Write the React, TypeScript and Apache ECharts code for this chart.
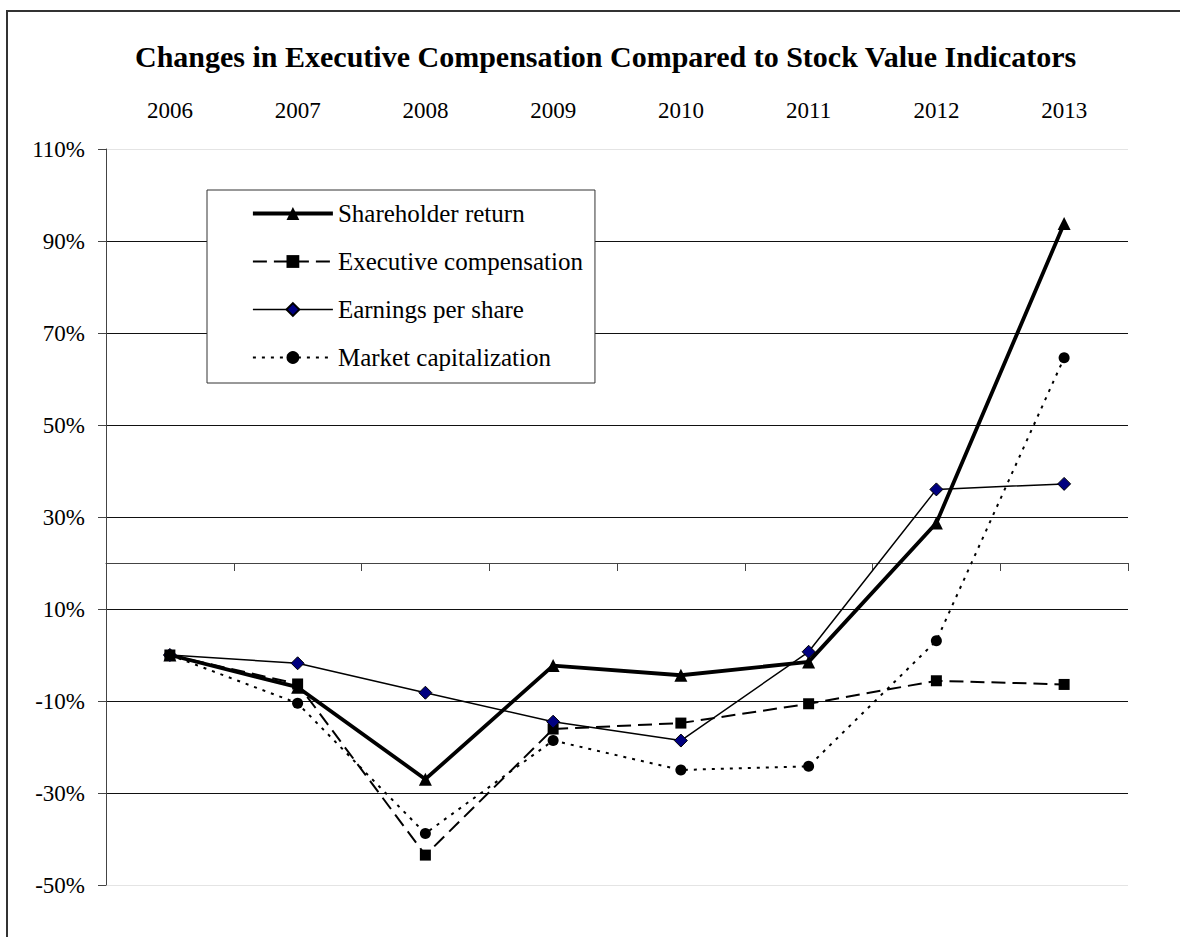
import React, { useEffect, useRef } from 'react';
import * as echarts from 'echarts';

const years = ['2006', '2007', '2008', '2009', '2010', '2011', '2012', '2013'];
const shareholderReturn = [0, -7.0, -27.0, -2.3, -4.4, -1.5, 28.7, 93.8];
const executiveCompensation = [0, -6.3, -43.5, -16.1, -14.8, -10.6, -5.6, -6.4];
const earningsPerShare = [0, -1.8, -8.2, -14.5, -18.6, 0.7, 36.0, 37.2];
const marketCapitalization = [0, -10.5, -38.8, -18.6, -25.0, -24.2, 3.1, 64.6];
const yMin = -50;
const yMax = 110;
const yStep = 20;
const axisCross = 20;

const titleText = 'Changes in Executive Compensation Compared to Stock Value Indicators';
const FONT = 'Liberation Serif';

export default function App() {
  const ref = useRef<HTMLDivElement>(null);
  useEffect(() => {
    if (!ref.current) return;
    const chart = echarts.init(ref.current, undefined, { renderer: 'svg' });
    const span = yMax - yMin;
    const option: any = {
      animation: false,
      backgroundColor: '#fff',
      textStyle: { fontFamily: FONT },
      title: {
        text: titleText,
        left: 135,
        top: 41,
        padding: 0,
        textStyle: { fontFamily: FONT, fontSize: 30, fontWeight: 'bold', color: '#000' },
      },
      graphic: [
        {
          type: 'rect',
          shape: { x: 7, y: 11, width: 1300, height: 1000 },
          style: { fill: 'none', stroke: '#333', lineWidth: 2 },
          silent: true,
          z: 100,
        },
      ],
      grid: { left: 106, right: 52, top: 149, bottom: 52, containLabel: false },
      legend: {
        orient: 'vertical',
        left: 207,
        top: 190,
        padding: [11, 12, 13, 44],
        itemWidth: 80,
        itemHeight: 16,
        itemGap: 23,
        backgroundColor: '#fff',
        borderColor: '#333',
        borderWidth: 1,
        lineStyle: { width: 'inherit', type: 'inherit' },
        textStyle: { fontFamily: FONT, fontSize: 25, lineHeight: 25, color: '#000' },
        data: ['Shareholder return', 'Executive compensation', 'Earnings per share', 'Market capitalization'],
      },
      xAxis: [
        {
          type: 'category',
          data: years,
          position: 'top',
          boundaryGap: true,
          axisLine: { show: false, onZero: false },
          axisTick: { show: false },
          axisLabel: { fontFamily: FONT, fontSize: 23, color: '#000', margin: 27 },
          splitLine: { show: false },
        },
        {
          type: 'category',
          data: years,
          position: 'bottom',
          boundaryGap: true,
          axisLine: { show: true, onZero: true, onZeroAxisIndex: 1, lineStyle: { color: '#444', width: 1 } },
          axisTick: { show: true, inside: false, length: 8, lineStyle: { color: '#444', width: 1 } },
          axisLabel: { show: false },
          splitLine: { show: false },
        },
      ],
      yAxis: [
        {
          type: 'value',
          min: yMin,
          max: yMax,
          interval: yStep,
          axisLine: { show: true, lineStyle: { color: '#444', width: 1 } },
          axisTick: { show: true, inside: false, length: 8, lineStyle: { color: '#444', width: 1 } },
          axisLabel: {
            fontFamily: FONT,
            fontSize: 23,
            color: '#000',
            margin: 21,
            formatter: (v: number) => `${v}%`,
          },
          splitLine: {
            show: true,
            lineStyle: {
              color: ['#e4e4e4', '#111', '#111', '#111', '#111', '#111', '#111', '#111', '#e4e4e4'],
              width: 1,
            },
          },
        },
        {
          type: 'value',
          show: false,
          min: yMin - axisCross,
          max: yMin - axisCross + span,
          splitLine: { show: false },
        },
      ],
      series: [
        {
          name: 'Shareholder return',
          type: 'line',
          data: shareholderReturn,
          symbol: 'triangle',
          symbolSize: 13,
          lineStyle: { color: '#000', width: 3.8, type: 'solid' },
          itemStyle: { color: '#000' },
        },
        {
          name: 'Executive compensation',
          type: 'line',
          data: executiveCompensation,
          symbol: 'rect',
          symbolSize: 11,
          lineStyle: { color: '#000', width: 2, type: [14, 7] },
          itemStyle: { color: '#000' },
        },
        {
          name: 'Earnings per share',
          type: 'line',
          data: earningsPerShare,
          symbol: 'diamond',
          symbolSize: 13,
          lineStyle: { color: '#000', width: 1.5, type: 'solid' },
          itemStyle: { color: '#000080', borderColor: '#000', borderWidth: 1 },
        },
        {
          name: 'Market capitalization',
          type: 'line',
          data: marketCapitalization,
          symbol: 'circle',
          symbolSize: 11,
          lineStyle: { color: '#000', width: 2, type: [3, 6] },
          itemStyle: { color: '#000' },
        },
      ],
    };
    chart.setOption(option);
    return () => chart.dispose();
  }, []);
  return (
    <div
      ref={ref}
      style={{ position: 'fixed', left: 0, top: 0, width: 1180, height: 937, background: '#fff' }}
    />
  );
}
